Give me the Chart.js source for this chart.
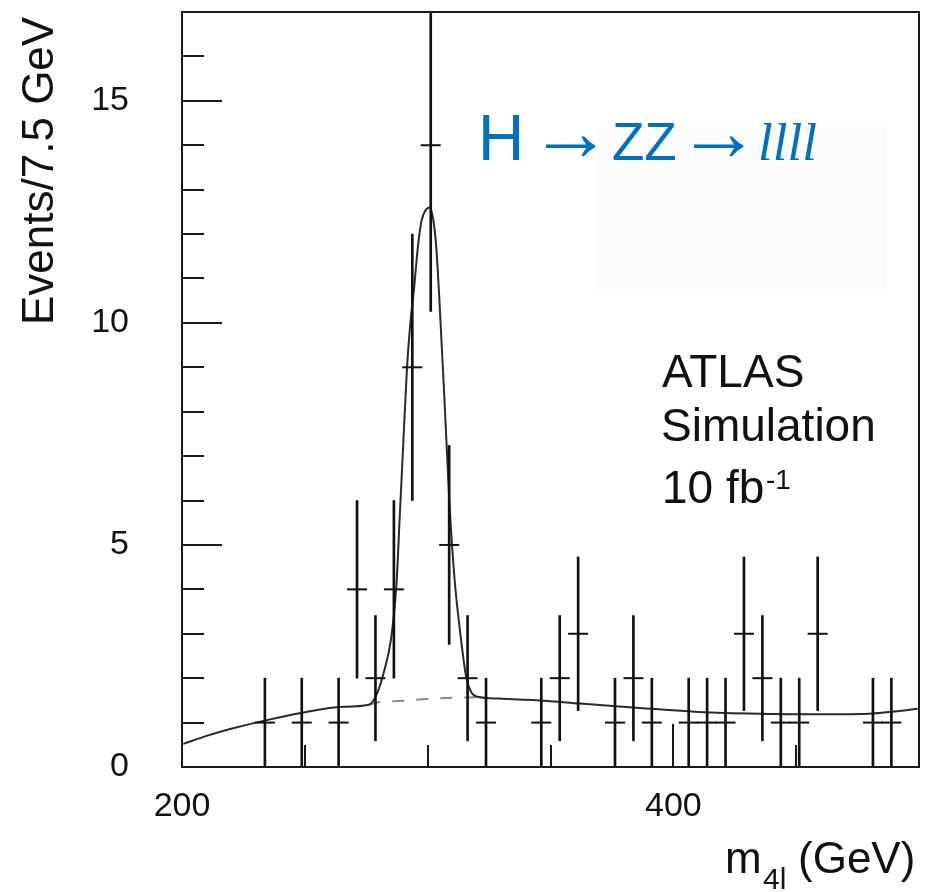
<!doctype html>
<html lang="en">
<head>
<meta charset="utf-8">
<title>H → ZZ → llll</title>
<script src="https://cdn.jsdelivr.net/npm/chart.js@4.4.1/dist/chart.umd.min.js"></script>
<style>
  html, body { margin: 0; padding: 0; background: #fff; }
  #chart { display: block; }
</style>
</head>
<body>
<canvas id="chart" width="931" height="892"></canvas>
<script>
// simulated events, 7.5 GeV bins (bin centres in GeV), empty bins left out
const binCentres = [233.75, 248.75, 263.75, 271.25, 278.75, 286.25, 293.75, 301.25, 308.75, 316.25, 323.75,
                    346.25, 353.75, 361.25, 376.25, 383.75, 391.25, 406.25, 413.75, 421.25, 428.75, 436.25,
                    443.75, 451.25, 458.75, 481.25, 488.75];
const events = [1, 1, 1, 4, 2, 4, 9, 14, 5, 2, 1,
                1, 2, 3, 1, 2, 1, 1, 1, 1, 3, 2,
                1, 1, 3, 1, 1];
const errors = [1, 1, 1, 2, 1.41, 2, 3, 3.74, 2.24, 1.41, 1,
                1, 1.41, 1.73, 1, 1.41, 1, 1, 1, 1, 1.73, 1.41,
                1, 1, 1.73, 1, 1];

// fitted curve (signal + background)
const fitMass = [200.5, 210, 220, 234, 249, 264, 276, 279.1, 281.8, 285.2, 287.3, 288.6, 290, 291.6,
                 292.8, 294.5, 296, 297.5, 299.3, 300.8, 302.2, 303.5, 304.7, 306.9, 308.9, 311, 313,
                 315.7, 317.8, 320.3, 329.3, 345.5, 361.8, 378, 394.3, 410.6, 435, 451.2, 467.5,
                 479.7, 491.9, 499.5];
const fitEvents = [0.52, 0.70, 0.86, 1.05, 1.22, 1.35, 1.40, 1.62, 2.06, 2.92, 4.1, 5.6, 7.2, 9.0,
                   9.9, 10.8, 11.7, 12.3, 12.55, 12.6, 12.35, 11.7, 10.6, 8.2, 5.9, 4.2, 3.14,
                   2.02, 1.68, 1.58, 1.54, 1.50, 1.43, 1.36, 1.30, 1.24, 1.20, 1.19, 1.19,
                   1.20, 1.26, 1.31];

// background only, under the peak
const bkgMass = [276, 280, 290, 300, 310, 320];
const bkgEvents = [1.40, 1.46, 1.49, 1.53, 1.56, 1.57];

const xTickLabels = [200, 400];
const xMinorTicks = [250, 300, 350, 450];
const yTickLabels = [0, 5, 10, 15];
const yMinorTicks = [1, 2, 3, 4, 6, 7, 8, 9, 11, 12, 13, 14, 16];

const SANS = '"Liberation Sans", Arial, sans-serif';
const SERIF = '"Liberation Serif", "Times New Roman", serif';
const BLUE = '#0070c0';

// put text so that its ink starts at inkLeft
function inkText(ctx, text, font, inkLeft, baseline) {
    ctx.font = font;
    const m = ctx.measureText(text);
    ctx.fillText(text, inkLeft + m.actualBoundingBoxLeft, baseline);
}

function arrow(ctx, inkLeft, inkRight, midY) {
    ctx.font = '40px ' + SERIF;
    let m = ctx.measureText('→');
    const size = 40 * (inkRight - inkLeft) / (m.actualBoundingBoxLeft + m.actualBoundingBoxRight);
    ctx.font = size.toFixed(1) + 'px ' + SERIF;
    m = ctx.measureText('→');
    const base = midY + (m.actualBoundingBoxAscent - m.actualBoundingBoxDescent) / 2;
    ctx.fillText('→', inkLeft + m.actualBoundingBoxLeft, base);
}

const atlasFrame = {
    id: 'atlasFrame',
    beforeDatasetsDraw(chart) {
        const ctx = chart.ctx;
        ctx.save();
        ctx.fillStyle = '#fcfcfc';
        ctx.fillRect(597, 127, 290, 163);
        ctx.restore();
    },
    afterDatasetsDraw(chart) {
        const { ctx, chartArea: a, scales: { x, y } } = chart;
        ctx.save();
        ctx.strokeStyle = '#1a1a1a';
        ctx.lineWidth = 2;
        ctx.strokeRect(a.left, a.top, a.right - a.left, a.bottom - a.top);

        // ticks point into the plot
        ctx.beginPath();
        yMinorTicks.forEach(v => {
            const py = Math.round(y.getPixelForValue(v));
            ctx.moveTo(a.left, py);
            ctx.lineTo(a.left + 22, py);
        });
        yTickLabels.forEach(v => {
            const py = Math.round(y.getPixelForValue(v));
            ctx.moveTo(a.left, py);
            ctx.lineTo(a.left + 40, py);
        });
        xMinorTicks.forEach(v => {
            const px = Math.round(x.getPixelForValue(v));
            ctx.moveTo(px, a.bottom);
            ctx.lineTo(px, a.bottom - 22);
        });
        xTickLabels.forEach(v => {
            const px = Math.round(x.getPixelForValue(v));
            ctx.moveTo(px, a.bottom);
            ctx.lineTo(px, a.bottom - 43);
        });
        ctx.stroke();
        ctx.restore();
    },
    afterDraw(chart) {
        const ctx = chart.ctx;
        ctx.save();
        ctx.textAlign = 'left';
        ctx.textBaseline = 'alphabetic';

        // process label
        ctx.fillStyle = BLUE;
        inkText(ctx, 'H', '64px ' + SANS, 483, 160);
        arrow(ctx, 546, 596, 146);
        inkText(ctx, 'ZZ', '53px ' + SANS, 613, 160);
        arrow(ctx, 694, 744, 146);
        inkText(ctx, 'llll', 'italic 53px ' + SERIF, 760, 160);

        // ATLAS block
        ctx.fillStyle = '#111';
        inkText(ctx, 'ATLAS', '46px ' + SANS, 662, 387);
        inkText(ctx, 'Simulation', '46px ' + SANS, 663, 441);
        ctx.font = '46px ' + SANS;
        ctx.fillText('10 fb', 662, 503);
        inkText(ctx, '-1', '28px ' + SANS, 767, 489);

        // axis titles
        inkText(ctx, 'm', '44px ' + SANS, 727, 873);
        inkText(ctx, '4l', '30px ' + SANS, 763, 889);
        inkText(ctx, '(GeV)', '44px ' + SANS, 800, 873);

        ctx.translate(53, 322);
        ctx.rotate(-Math.PI / 2);
        inkText(ctx, 'Events/7.5 GeV', '44px ' + SANS, 0, 0);
        ctx.restore();
    }
};

const ctx = document.getElementById('chart').getContext('2d');
new Chart(ctx, {
    type: 'scatter',
    data: {
        datasets: [
            {
                type: 'bar',
                data: binCentres.map((m, i) => ({ x: m, y: [events[i] - errors[i], events[i] + errors[i]] })),
                backgroundColor: '#111',
                borderWidth: 0,
                barThickness: 2
            },
            {
                type: 'scatter',
                data: binCentres.map((m, i) => ({ x: m, y: events[i] })),
                pointStyle: 'line',
                pointRadius: 10,
                pointBorderWidth: 2,
                borderColor: '#111',
                backgroundColor: '#111'
            },
            {
                type: 'line',
                data: fitMass.map((m, i) => ({ x: m, y: fitEvents[i] })),
                borderColor: '#2a2a2a',
                borderWidth: 2,
                pointRadius: 0,
                cubicInterpolationMode: 'monotone',
                fill: false
            },
            {
                type: 'line',
                data: bkgMass.map((m, i) => ({ x: m, y: bkgEvents[i] })),
                borderColor: '#8a8a8a',
                borderWidth: 2,
                borderDash: [12, 12],
                pointRadius: 0,
                tension: 0.4,
                fill: false
            }
        ]
    },
    options: {
        responsive: false,
        animation: false,
        layout: { padding: { top: 8, right: 11, left: 0, bottom: 0 } },
        plugins: {
            legend: { display: false },
            tooltip: { enabled: false }
        },
        scales: {
            x: {
                type: 'linear',
                min: 200,
                max: 500,
                offset: false,
                grid: { display: false, drawTicks: false, offset: false },
                border: { display: false },
                afterFit: s => { s.height = 125; s.paddingLeft = 0; s.paddingRight = 0; },
                afterBuildTicks: s => { s.ticks = xTickLabels.map(v => ({ value: v })); },
                ticks: {
                    padding: 19,
                    maxRotation: 0,
                    autoSkip: false,
                    color: '#111',
                    font: { family: SANS, size: 34 }
                }
            },
            y: {
                type: 'linear',
                min: 0,
                max: 17,
                grid: { display: false, drawTicks: false },
                border: { display: false },
                // labels sit far from the axis; that gap must not push the plot down
                afterFit: s => { s.width = 182; s.paddingTop = 0; s.paddingBottom = 0; },
                afterBuildTicks: s => { s.ticks = yTickLabels.map(v => ({ value: v })); },
                ticks: {
                    padding: 53,
                    color: '#111',
                    font: { family: SANS, size: 34 }
                }
            }
        }
    },
    plugins: [atlasFrame]
});
</script>
</body>
</html>
